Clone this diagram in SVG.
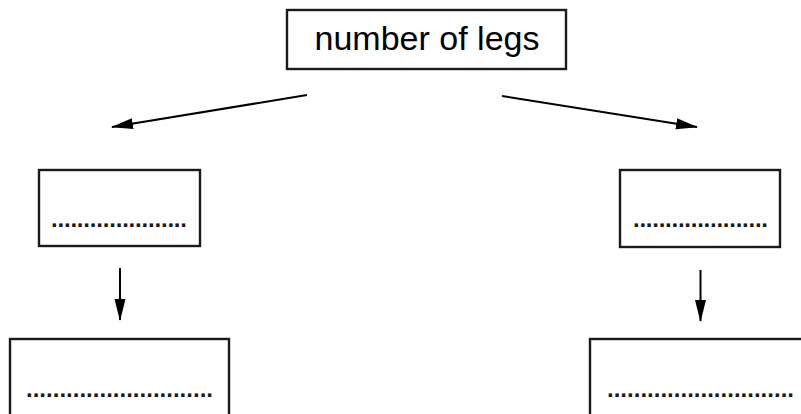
<svg xmlns="http://www.w3.org/2000/svg" width="801" height="414" viewBox="0 0 801 414">
<style>
.box{fill:#fff;stroke:#1a1a1a;stroke-width:2.4}
.lbl{font-family:"Liberation Sans",Arial,sans-serif;fill:#000}
.dots{font-family:"Liberation Sans",Arial,sans-serif;font-size:24px;font-weight:bold;fill:#1a1a1a}
.conn{stroke:#000;stroke-width:2;fill:none}
</style>
<defs>
<marker id="ah" markerUnits="userSpaceOnUse" markerWidth="22" markerHeight="12" viewBox="0 0 22 12" refX="21" refY="6" orient="auto">
<path d="M0,0.5 L22,6 L0,11.5 z" fill="#000"/>
</marker>
</defs>
<rect width="801" height="414" fill="#fff"/>
<g id="connectors">
<line class="conn" x1="307" y1="95" x2="112" y2="127" marker-end="url(#ah)"/>
<line class="conn" x1="502" y1="96" x2="697" y2="127" marker-end="url(#ah)"/>
<line class="conn" x1="120" y1="268" x2="120" y2="320" marker-end="url(#ah)"/>
<line class="conn" x1="700.5" y1="270" x2="700.5" y2="321" marker-end="url(#ah)"/>
</g>
<g id="root">
<rect class="box" x="287" y="10" width="279" height="59"/>
<text class="lbl" x="427" y="50" font-size="34" text-anchor="middle">number of legs</text>
</g>
<g id="left-mid">
<rect class="box" x="39" y="170" width="161" height="76"/>
<text class="dots" x="51" y="227" textLength="136">.....................</text>
</g>
<g id="right-mid">
<rect class="box" x="620" y="170" width="160" height="77"/>
<text class="dots" x="633" y="227" textLength="135">.....................</text>
</g>
<g id="left-bottom">
<rect class="box" x="10" y="339" width="219" height="100"/>
<text class="dots" x="26" y="397" textLength="187">............................</text>
</g>
<g id="right-bottom">
<rect class="box" x="590" y="339" width="240" height="100"/>
<text class="dots" x="607" y="397" textLength="187">............................</text>
</g>
</svg>
